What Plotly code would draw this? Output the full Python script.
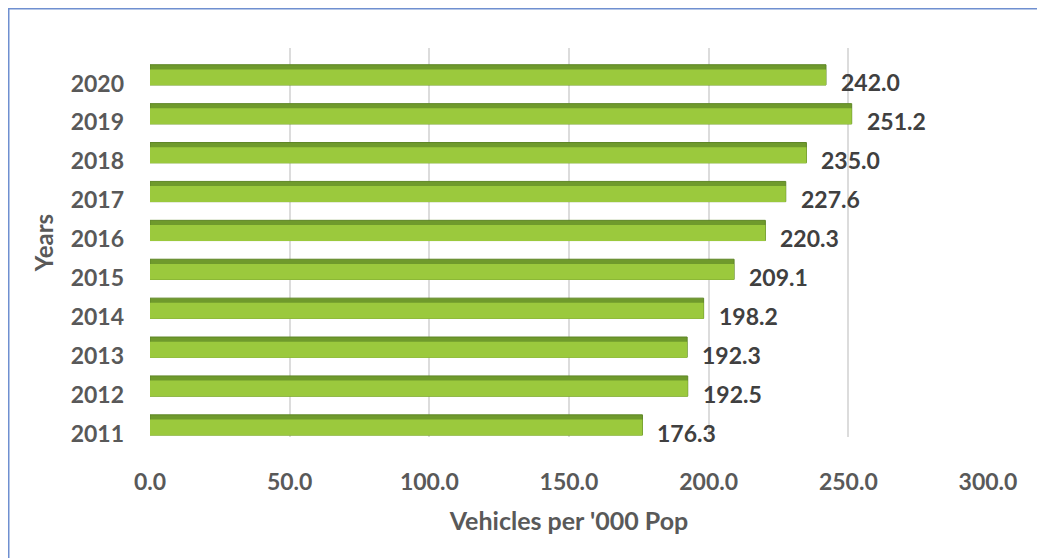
import plotly.graph_objects as go

years = ["2011", "2012", "2013", "2014", "2015", "2016", "2017", "2018", "2019", "2020"]
values = [176.3, 192.5, 192.3, 198.2, 209.1, 220.3, 227.6, 235.0, 251.2, 242.0]
tick_vals = [0, 50, 100, 150, 200, 250, 300]
tick_text = ["0.0", "50.0", "100.0", "150.0", "200.0", "250.0", "300.0"]
x_title = "Vehicles per '000 Pop"
y_title = "Years"

FONT = "Lato"
GREY = "#595959"

W, H = 1045, 558
L, R, T, B = 142, 65, 40, 129
PW, PH = W - L - R, H - T - B

fig = go.Figure()
# darker top edge (3D look)
fig.add_trace(go.Bar(
    y=years, x=values, orientation="h",
    width=0.52, offset=-0.45,
    marker=dict(color="#6F9A2C", line=dict(color="#5E8626", width=1)),
    hoverinfo="skip", showlegend=False,
))
# main light face
fig.add_trace(go.Bar(
    y=years, x=values, orientation="h",
    width=0.41, offset=-0.46,
    marker=dict(color="#9BC93D", line=dict(width=0)),
    showlegend=False,
))

annotations = [
    dict(x=v, y=i, xref="x", yref="y", text=f"<b>{v:.1f}</b>", showarrow=False,
         xanchor="left", yanchor="middle", xshift=13, yshift=-15,
         font=dict(family=FONT, size=23, color="#404040"))
    for i, v in enumerate(values)
]

fig.update_layout(
    width=W, height=H,
    barmode="overlay",
    paper_bgcolor="white", plot_bgcolor="white",
    margin=dict(l=L, r=R, t=T, b=B, autoexpand=False),
    font=dict(family=FONT, color=GREY),
    annotations=annotations,
    shapes=[dict(
        type="rect", xref="paper", yref="paper",
        x0=(0.75 - L) / PW, x1=(W + 20 - L) / PW,
        y0=-(H + 20 - T - PH) / PH, y1=(T + PH - 0.75) / PH,
        line=dict(color="#6F8FD0", width=1.5), fillcolor="rgba(0,0,0,0)", layer="below",
    )],
)
fig.update_xaxes(
    range=[0, 300], tickvals=tick_vals, ticktext=[f"<b>{t}</b>" for t in tick_text],
    showgrid=True, gridcolor="#DCDCDC", gridwidth=2,
    zeroline=False, showline=False, automargin=False,
    ticklabelstandoff=29,
    tickfont=dict(family=FONT, size=23, color=GREY),
    title=dict(text=f"<b>{x_title}</b>", font=dict(family=FONT, size=25, color=GREY), standoff=18),
)
fig.update_yaxes(
    type="category",
    categoryorder="array", categoryarray=years,
    range=[-0.5, len(years) - 0.5],
    tickvals=years, ticktext=[f"<b>{y}</b>" for y in years],
    showgrid=False, zeroline=False, showline=False, automargin=False,
    ticklabelstandoff=25, ticklabelshift=16,
    tickfont=dict(family=FONT, size=23, color=GREY),
    title=dict(text=f"<b>{y_title}</b>", font=dict(family=FONT, size=24, color=GREY), standoff=10),
)

fig.write_html("out.html")
